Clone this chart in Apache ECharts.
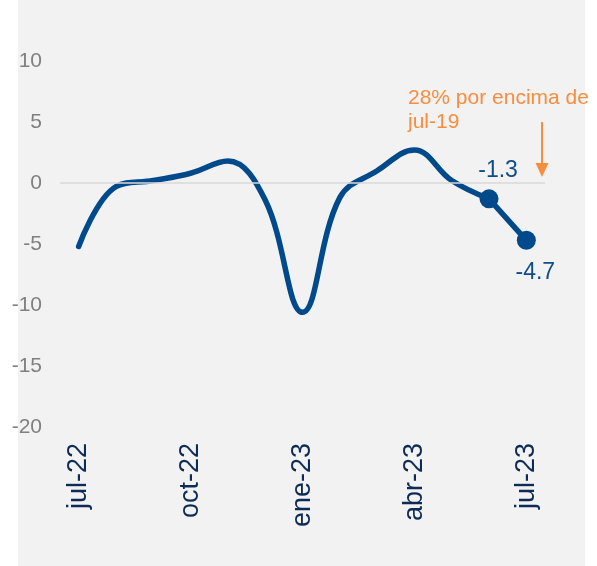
<!DOCTYPE html>
<html>
<head>
<meta charset="utf-8">
<script src="https://cdn.jsdelivr.net/npm/echarts@6/dist/echarts.min.js"></script>
<style>
  html, body { margin: 0; padding: 0; background: #ffffff; }
  #main { width: 597px; height: 566px; }
</style>
</head>
<body>
<div id="main"></div>
<script>
var months = ['jul-22','ago-22','sep-22','oct-22','nov-22','dic-22','ene-23','feb-23','mar-23','abr-23','may-23','jun-23','jul-23'];
// variación interanual (%)
var trend = [-5.2, -0.3, 0.2, 0.8, 1.8, -1.4, -10.6, -1.2, 1.0, 2.7, 0.2, -1.3, null];
var lastMonths = [null, null, null, null, null, null, null, null, null, null, null, -1.3, -4.7];
var yTicks = { min: -20, max: 10, step: 5 };

var font = 'Liberation Sans, Arial, sans-serif';
var blue = '#004a8c';
var orange = '#f78d3f';

var myChart = echarts.init(document.getElementById('main'));

var pointData = lastMonths.map(function(v, i) {
    if (v === null) return null;
    var up = i === 11;
    return {
        value: v,
        label: {
            show: true,
            position: up ? 'top' : 'bottom',
            distance: up ? 7 : 11,
            offset: [9, 0]
        }
    };
});

var option = {
    animation: false,
    graphic: [
        { type: 'rect', z: -100, silent: true, shape: { x: 18, y: 0, width: 567, height: 566 }, style: { fill: '#f2f2f2' } },
        { type: 'text', left: 408, top: 86, style: { text: '28% por encima de\njul-19', fill: orange, font: '21px ' + font, lineHeight: 24 } },
        { type: 'line', shape: { x1: 542, y1: 122, x2: 542, y2: 166 }, style: { stroke: orange, lineWidth: 2 } },
        { type: 'polygon', shape: { points: [[535.5, 163], [548.5, 163], [542, 177]] }, style: { fill: orange } }
    ],
    grid: { left: 60, right: 52, top: 61, bottom: 139 },
    xAxis: {
        type: 'category',
        data: months,
        boundaryGap: true,
        axisLine: { show: false },
        axisTick: { show: false },
        axisLabel: {
            interval: 2,
            rotate: 90,
            margin: 16,
            color: '#0d2b55',
            fontSize: 27,
            fontFamily: font
        }
    },
    yAxis: {
        type: 'value',
        min: yTicks.min,
        max: yTicks.max,
        interval: yTicks.step,
        axisLine: { show: false },
        axisTick: { show: false },
        splitLine: { show: false },
        axisLabel: { color: '#808080', fontSize: 21, fontFamily: font, margin: 18 }
    },
    series: [
        {
            type: 'line',
            data: trend,
            smooth: 0.4,
            showSymbol: false,
            lineStyle: { color: blue, width: 5.5, cap: 'round' },
            markLine: {
                silent: true,
                symbol: 'none',
                label: { show: false },
                lineStyle: { color: '#d9d9d9', width: 1.5, type: 'solid' },
                data: [{ yAxis: 0 }]
            },
            z: 3
        },
        {
            type: 'line',
            data: pointData,
            symbol: 'circle',
            symbolSize: 19,
            itemStyle: { color: blue },
            lineStyle: { color: blue, width: 5.5 },
            label: {
                color: '#0f4c8a',
                fontSize: 23,
                fontFamily: font,
                formatter: function(p) { return p.value.toFixed(1); }
            },
            z: 4
        }
    ]
};
myChart.setOption(option);
</script>
</body>
</html>
